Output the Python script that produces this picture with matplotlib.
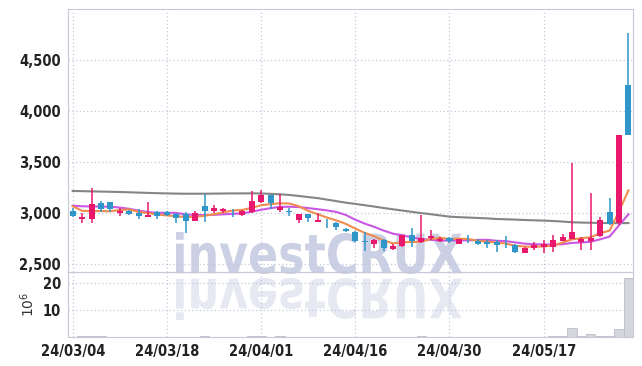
import matplotlib
matplotlib.use("Agg")
import matplotlib.pyplot as plt
import numpy as np
from matplotlib.textpath import TextPath
from matplotlib.patches import PathPatch
from matplotlib.font_manager import FontProperties
from matplotlib.transforms import Affine2D, IdentityTransform

# trading days shown on the chart
dates = ["24/03/04", "24/03/05", "24/03/06", "24/03/07", "24/03/08", "24/03/11", "24/03/12", "24/03/13",
         "24/03/14", "24/03/15", "24/03/18", "24/03/19", "24/03/20", "24/03/21", "24/03/22", "24/03/25",
         "24/03/26", "24/03/27", "24/03/28", "24/03/29", "24/04/01", "24/04/02", "24/04/03", "24/04/04",
         "24/04/05", "24/04/08", "24/04/09", "24/04/11", "24/04/12", "24/04/15", "24/04/16", "24/04/17",
         "24/04/18", "24/04/19", "24/04/22", "24/04/23", "24/04/24", "24/04/25", "24/04/26", "24/04/29",
         "24/04/30", "24/05/02", "24/05/03", "24/05/07", "24/05/08", "24/05/09", "24/05/10", "24/05/13",
         "24/05/14", "24/05/16", "24/05/17", "24/05/20", "24/05/21", "24/05/22", "24/05/23", "24/05/24",
         "24/05/27", "24/05/28", "24/05/29", "24/05/30"]

opens = [3020, 2940, 2940, 3095, 3108, 3003, 3015, 3000, 2958, 3010,
         3010, 2990, 2985, 2925, 3070, 3020, 3020, 3022, 2975, 3013,
         3110, 3175, 3030, 3015, 2932, 2987, 2915, 2902, 2905, 2843,
         2817, 2722, 2693, 2735, 2647, 2676, 2784, 2713, 2752, 2725,
         2750, 2696, 2738, 2728, 2710, 2710, 2698, 2686, 2611, 2655,
         2670, 2670, 2728, 2748, 2713, 2725, 2775, 3010, 2905, 4255]
highs = [3050, 2995, 3240, 3120, 3110, 3050, 3030, 3035, 3110, 3015,
         3015, 3000, 3010, 3020, 3190, 3080, 3045, 3035, 3030, 3210,
         3220, 3180, 3190, 3045, 2990, 2990, 2997, 2940, 2915, 2855,
         2820, 2815, 2745, 2740, 2690, 2785, 2855, 2980, 2835, 2760,
         2760, 2745, 2785, 2740, 2735, 2735, 2770, 2690, 2665, 2710,
         2735, 2784, 2790, 3487, 2760, 3193, 2964, 3144, 3765, 4762]
lows = [2960, 2900, 2900, 3010, 3005, 2965, 2975, 2940, 2955, 2940,
        2965, 2900, 2805, 2920, 2915, 3000, 3000, 2955, 2970, 3000,
        3100, 3035, 3010, 2965, 2900, 2915, 2912, 2850, 2835, 2810,
        2715, 2628, 2655, 2628, 2640, 2670, 2670, 2700, 2735, 2710,
        2700, 2690, 2705, 2680, 2655, 2620, 2655, 2610, 2605, 2637,
        2605, 2620, 2720, 2740, 2640, 2637, 2762, 2882, 2882, 3765]
closes = [2965, 2955, 3090, 3035, 3036, 3022, 2985, 2965, 2983, 2965,
          2975, 2945, 2925, 2997, 3020, 3045, 3040, 3018, 3020, 3120,
          3175, 3095, 3060, 3010, 2987, 2948, 2930, 2897, 2866, 2818,
          2720, 2717, 2735, 2655, 2676, 2784, 2720, 2752, 2778, 2745,
          2720, 2742, 2732, 2696, 2693, 2680, 2694, 2621, 2660, 2686,
          2696, 2735, 2768, 2814, 2742, 2752, 2931, 2892, 3765, 3765]

# moving averages
ma5 = [3065, 3020, 3018, 3018, 3016, 3028, 3034, 3009, 2998, 2984,
       2975, 2967, 2959, 2961, 2972, 2986, 3005, 3024, 3029, 3049,
       3075, 3086, 3094, 3092, 3065, 3020, 2987, 2954, 2926, 2892,
       2846, 2804, 2771, 2729, 2701, 2713, 2714, 2717, 2742, 2756,
       2743, 2747, 2743, 2727, 2717, 2709, 2699, 2677, 2670, 2668,
       2671, 2680, 2709, 2740, 2751, 2762, 2801, 2826, 3016, 3221]
ma10 = [3070, 3065, 3063, 3062, 3060, 3052, 3040, 3022, 3008, 3000,
        3001, 3000, 2984, 2980, 2978, 2981, 2986, 2991, 2995, 3011,
        3031, 3046, 3059, 3060, 3057, 3047, 3036, 3024, 3009, 2979,
        2933, 2895, 2863, 2827, 2796, 2780, 2759, 2744, 2736, 2728,
        2728, 2731, 2730, 2735, 2736, 2726, 2723, 2710, 2698, 2692,
        2690, 2689, 2693, 2705, 2710, 2717, 2741, 2768, 2878, 2986]
ma_long = [3215, 3213, 3211, 3209, 3207, 3205, 3202, 3199, 3196, 3193,
           3191, 3189, 3188, 3188, 3188, 3189, 3190, 3191, 3191, 3192,
           3190, 3187, 3182, 3176, 3166, 3155, 3145, 3130, 3115, 3100,
           3088, 3075, 3062, 3048, 3035, 3023, 3010, 2998, 2987, 2975,
           2963, 2958, 2954, 2950, 2946, 2940, 2937, 2934, 2930, 2927,
           2924, 2920, 2915, 2908, 2905, 2903, 2901, 2900, 2899, 2900]

# volume in millions of shares
volume = [0.15, 0.2, 0.5, 0.2, 0.15, 0.1, 0.1, 0.1, 0.15, 0.1,
          0.1, 0.1, 0.15, 0.1, 0.2, 0.1, 0.1, 0.1, 0.1, 0.4,
          0.3, 0.15, 0.2, 0.1, 0.1, 0.1, 0.1, 0.1, 0.1, 0.1,
          0.15, 0.15, 0.1, 0.1, 0.1, 0.15, 0.15, 0.2, 0.1, 0.1,
          0.1, 0.1, 0.1, 0.1, 0.1, 0.1, 0.1, 0.1, 0.1, 0.1,
          0.15, 0.2, 0.2, 3.4, 0.3, 1.0, 0.3, 0.3, 2.8, 21.7]

price_ticks = [2500, 3000, 3500, 4000, 4500]
vol_ticks = [10, 20]

UP, DOWN = "#e8196c", "#2f96c9"
GRID = "#c4c8de"
tick_font = {"family": ["DejaVu Sans"], "stretch": "condensed", "weight": "bold", "size": 10.5,
             "color": "#222222"}

fig = plt.figure(figsize=(6.42, 3.66), dpi=100)
ax = fig.add_axes([68 / 642, 1 - 272 / 366, 564.7 / 642, 263 / 366])
axv = fig.add_axes([68 / 642, 1 - 337 / 366, 564.7 / 642, 65 / 366], sharex=ax)
for a in (ax, axv):
    a.set_facecolor("none")
    for s in a.spines.values():
        s.set_color("#c8c8d6")
    a.tick_params(length=0, pad=5)
    a.grid(True, color=GRID, linestyle=(0, (1, 2)), linewidth=0.9)
    a.set_axisbelow(True)

# watermark + reflection
fp = FontProperties(family="DejaVu Sans", weight="bold")
tp = TextPath((0, 0), "investCRUX", size=100, prop=fp)
bb = tp.get_extents()
sx, sy = (462 - 176) / bb.width, (134 - 92) / bb.height
t1 = Affine2D().translate(-bb.x0, -bb.y0).scale(sx, sy).translate(176, 92)
t2 = Affine2D().translate(-bb.x0, -bb.y0).scale(sx, -sy).translate(176, 88)
fig.patches.append(PathPatch(t1.transform_path(tp), transform=IdentityTransform(),
                             facecolor="#cbd0e4", edgecolor="none", zorder=-1))
fig.patches.append(PathPatch(t2.transform_path(tp), transform=IdentityTransform(),
                             facecolor="#e7e9f2", edgecolor="none", zorder=-1))

x = np.arange(len(dates))
o, h, l, c = map(np.array, (opens, highs, lows, closes))
col = np.where(c >= o, UP, DOWN)
ax.vlines(x, l, h, colors=col, linewidth=1.1, zorder=3)
body = np.maximum(np.abs(c - o), 5)
ax.bar(x, body, bottom=np.minimum(o, c), width=0.64, color=col, zorder=4)

ax.plot(x, ma_long, color="#858585", linewidth=1.5, zorder=2)
ax.plot(x, ma10, color="#c957e3", linewidth=1.5, zorder=2)
ax.plot(x, ma5, color="#f08c4e", linewidth=1.5, zorder=2)

ax.set_ylim(2420, 5000)
ax.set_yticks(price_ticks)
ax.set_yticklabels([f"{v:,}" for v in price_ticks], fontdict=tick_font)
ax.tick_params(axis="x", labelbottom=False)

axv.bar(x, volume, width=1.0, color="#d5d5dd", edgecolor="#bdbdc8", linewidth=0.6)
axv.set_ylim(0, 24)
axv.set_yticks(vol_ticks)
axv.set_yticklabels([str(v) for v in vol_ticks], fontdict=tick_font)
axv.set_ylabel(r"$10^6$", fontsize=10, color="#333333", labelpad=4)

tick_idx = list(range(0, len(dates), 10))
axv.set_xticks(tick_idx)
axv.set_xticklabels([dates[i] for i in tick_idx], fontdict=tick_font)
axv.set_xlim(-0.5, len(dates) - 0.55)

fig.savefig("out.png", dpi=100)
